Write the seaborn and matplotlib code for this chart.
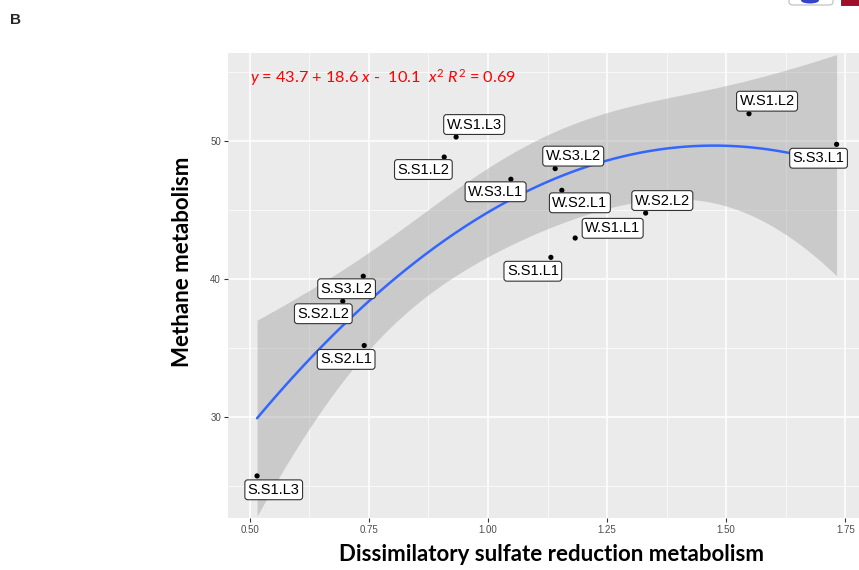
import matplotlib
matplotlib.use("Agg")
import matplotlib.pyplot as plt
import seaborn as sns
import pandas as pd
import numpy as np
from matplotlib.patches import FancyBboxPatch, Rectangle, Ellipse

# ---- data ----
labels = ["W.S1.L3", "S.S1.L2", "W.S3.L1", "W.S3.L2", "W.S2.L1", "W.S2.L2", "W.S1.L1",
          "S.S1.L1", "W.S1.L2", "S.S3.L1", "S.S3.L2", "S.S2.L2", "S.S2.L1", "S.S1.L3"]
dsr = [0.933, 0.908, 1.048, 1.141, 1.155, 1.331, 1.183,
       1.132, 1.548, 1.732, 0.738, 0.695, 0.740, 0.515]
methane = [50.31, 48.86, 47.25, 48.02, 46.45, 44.80, 42.99,
           41.59, 52.00, 49.78, 40.22, 38.41, 35.20, 25.75]
# label offsets (points) from each point (repel-like placement)
label_dx = [13, -15, -11, 13, 13, 12, 27, -13, 13, -13, -12, -14, -13, 12]
label_dy = [9, -9, -9, 9, -9, 9, 7, -10, 9, -10, -9, -9, -10, -10]
x_ticks = [0.50, 0.75, 1.00, 1.25, 1.50, 1.75]
y_ticks = [30, 40, 50]

df = pd.DataFrame({"x": dsr, "y": methane, "lab": labels})

sns.set_theme(style="darkgrid")
plt.rcParams['font.family'] = ['Liberation Sans', 'DejaVu Sans']
plt.rcParams['mathtext.fontset'] = 'custom'
plt.rcParams['mathtext.rm'] = 'Lato'
plt.rcParams['mathtext.it'] = 'Lato:italic'

fig = plt.figure(figsize=(8.59, 5.70), dpi=100)
ax = fig.add_axes([228/859, 1-518/570, 1-228/859, (518-53)/570])
ax.set_facecolor("#EBEBEB")

# quadratic fit line via seaborn
sns.regplot(data=df, x="x", y="y", order=2, scatter=False, ci=None,
            ax=ax, color="#3366FF", line_kws={"lw": 1.8, "zorder": 3})

# analytic 95% confidence band of the quadratic lm (as ggplot's geom_smooth)
xa = np.asarray(dsr)
ya = np.asarray(methane)
X = np.column_stack([np.ones_like(xa), xa, xa**2])
beta, *_ = np.linalg.lstsq(X, ya, rcond=None)
resid = ya - X @ beta
n, p = X.shape
s2 = resid @ resid / (n - p)
cov = s2 * np.linalg.inv(X.T @ X)
grid = np.linspace(xa.min(), xa.max(), 200)
G = np.column_stack([np.ones_like(grid), grid, grid**2])
fit = G @ beta
se = np.sqrt(np.einsum("ij,jk,ik->i", G, cov, G))
tval = 2.201  # t(0.975, df=11)
ax.fill_between(grid, fit - tval*se, fit + tval*se, color="#999999", alpha=0.4,
                lw=0, zorder=2)

sns.scatterplot(data=df, x="x", y="y", ax=ax, color="black", s=14, edgecolor="none",
                zorder=4, legend=False)

for lab, xv, yv, dx, dy in zip(labels, dsr, methane, label_dx, label_dy):
    ax.annotate(lab, (xv, yv), xytext=(dx, dy), textcoords="offset points",
                ha="center", va="center", fontsize=10.5, color="black", zorder=6,
                bbox=dict(boxstyle="round,pad=0.2,rounding_size=0.2", fc="white",
                          ec="#333333", lw=0.8))

ax.set_xlim(0.454, 1.779)
ax.set_ylim(22.7, 56.4)
ax.set_xticks(x_ticks)
ax.set_xticklabels([f"{v:.2f}" for v in x_ticks])
ax.set_yticks(y_ticks)
ax.set_xticks([0.625, 0.875, 1.125, 1.375, 1.625], minor=True)
ax.set_yticks([25, 35, 45, 55], minor=True)
ax.grid(which="major", color="white", lw=1.1)
ax.grid(which="minor", color="white", lw=0.5)
for s in ax.spines.values():
    s.set_visible(False)
ax.tick_params(axis="both", which="major", labelsize=7, labelcolor="#4D4D4D",
               color="#333333", length=3, width=0.8, direction="out", pad=2)
ax.tick_params(which="minor", length=0)
ax.tick_params(axis="x", bottom=True)
ax.tick_params(axis="y", left=True)

ax.set_xlabel("Dissimilatory sulfate reduction metabolism", fontsize=16,
              fontweight="bold", family=["Lato", "DejaVu Sans"], color="black")
ax.xaxis.set_label_coords(0.512, -0.055)
ax.set_ylabel("Methane metabolism", fontsize=16, fontweight="bold",
              family=["Lato", "DejaVu Sans"], color="black")
ax.yaxis.set_label_coords(-0.055, 0.55)

ax.text(0.035, 0.948, r"$\it{y}$ = 43.7 + 18.6 $\it{x}$ -  10.1  $\it{x}^2$ $\it{R}^2$ = 0.69",
        transform=ax.transAxes, color="#FF0000", fontsize=11.7, family=["Lato", "DejaVu Sans"],
        ha="left", va="center")

fig.text(10/859, 1-20/570, "B", fontsize=11, fontweight="bold", ha="left", va="center")

# cropped legend remnants at top right
fig.patches.append(FancyBboxPatch((789/859, 1-5/570), 44/859, 12/570,
                                  boxstyle="round,pad=0,rounding_size=0.005",
                                  transform=fig.transFigure, fc="white", ec="#BBBBBB",
                                  lw=0.8))
fig.patches.append(Ellipse((810/859, 1-0.5/570), 18/859, 6/570, transform=fig.transFigure,
                           fc="#3344CC", ec="none"))
fig.patches.append(Rectangle((841/859, 1-5/570), 18/859, 6/570, transform=fig.transFigure,
                             fc="#A0102A", ec="#333333", lw=0.6))

fig.savefig("out.png", dpi=100)
